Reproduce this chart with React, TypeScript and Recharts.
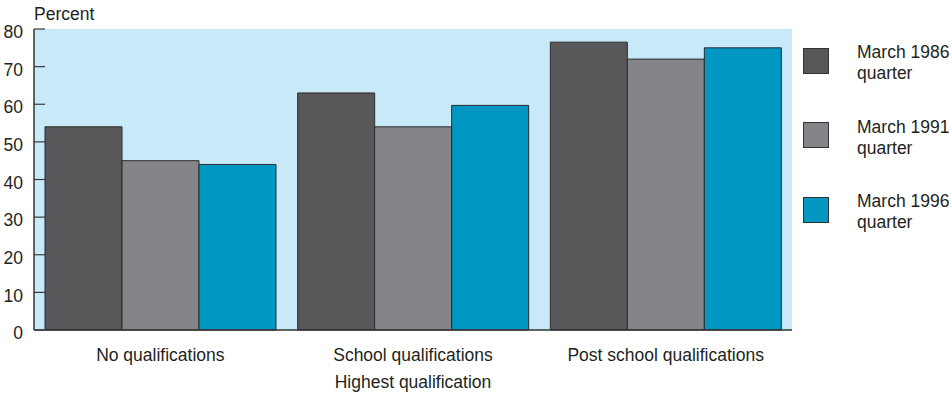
import { Bar, BarChart, CartesianGrid, XAxis, YAxis } from "recharts";

const CATEGORIES = ["No qualifications", "School qualifications", "Post school qualifications"];
const MARCH_1986 = [54, 63, 76.5];
const MARCH_1991 = [45, 54, 72];
const MARCH_1996 = [44, 59.7, 75];
const Y_TICKS = [0, 10, 20, 30, 40, 50, 60, 70, 80];

const SERIES = [
  { key: "m1986", name: "March 1986 quarter", color: "#58585a" },
  { key: "m1991", name: "March 1991 quarter", color: "#848588" },
  { key: "m1996", name: "March 1996 quarter", color: "#0098c2" },
];

const data = CATEGORIES.map((cat, i) => ({
  cat,
  m1986: MARCH_1986[i],
  m1991: MARCH_1991[i],
  m1996: MARCH_1996[i],
}));

const FONT = "'Liberation Sans', Arial, sans-serif";
const FS = 17.5;
const TEXT = "#231f20";

// y ticks point inward, labels sit left of the axis
function YTick(props: any) {
  const { x, y, payload } = props;
  return (
    <g>
      <line x1={x} x2={x + 11} y1={y} y2={y} stroke="#3a3a3c" strokeWidth={1.2} />
      <text x={x - 11} y={y + 3} dy="0.35em" textAnchor="end" fontSize={FS} fontFamily={FONT} fill={TEXT}>
        {payload.value}
      </text>
    </g>
  );
}

function LegendBox() {
  return (
    <div
      style={{
        position: "absolute",
        left: 803,
        top: 42.4,
        width: 150,
        fontFamily: FONT,
        fontSize: FS,
        color: TEXT,
      }}
    >
      {SERIES.map((s, i) => (
        <div key={s.key} style={{ position: "absolute", left: 0, top: i * 74.5, width: 150 }}>
          <div
            style={{
              position: "absolute",
              left: 0,
              top: 5.3,
              width: 24,
              height: 24,
              background: s.color,
              border: "1px solid #333",
            }}
          />
          <div style={{ position: "absolute", left: 54, top: 0, width: 95, lineHeight: "21px" }}>{s.name}</div>
        </div>
      ))}
    </div>
  );
}

export default function App() {
  return (
    <div style={{ position: "absolute", left: 0, top: 0, width: 952, height: 395, background: "#fff" }}>
      <BarChart
        width={952}
        height={395}
        data={data}
        margin={{ top: 29, right: 160, bottom: 0, left: 0 }}
        barCategoryGap={11}
        barGap={0}
      >
        <CartesianGrid horizontal={false} vertical={false} fill="#c8eaf8" />
        <XAxis
          dataKey="cat"
          height={65}
          tickLine={false}
          tickSize={0}
          tickMargin={19}
          axisLine={{ stroke: "#333", strokeWidth: 1.5 }}
          tick={{ fontSize: FS, fontFamily: FONT, fill: TEXT }}
          interval={0}
          label={{
            value: "Highest qualification",
            position: "insideBottom",
            offset: 7,
            fontSize: FS,
            fontFamily: FONT,
            fill: TEXT,
          }}
        />
        <XAxis xAxisId="top" orientation="top" height={0} tick={false} tickLine={false} axisLine={{ stroke: "#555", strokeWidth: 1.2 }} />
        <YAxis
          width={34}
          domain={[0, 80]}
          ticks={Y_TICKS}
          tickLine={false}
          tickSize={0}
          tickMargin={0}
          tick={<YTick />}
          axisLine={{ stroke: "#333", strokeWidth: 1.5 }}
          label={{
            position: "top",
            content: (p: any) => (
              <text x={p.viewBox.x + p.viewBox.width} y={p.viewBox.y - 9} fontSize={FS} fontFamily={FONT} fill={TEXT}>
                Percent
              </text>
            ),
          }}
        />
        <YAxis yAxisId="right" orientation="right" width={0} tick={false} tickLine={false} axisLine={{ stroke: "#333", strokeWidth: 1.2 }} />
        {SERIES.map((s) => (
          <Bar
            key={s.key}
            dataKey={s.key}
            name={s.name}
            fill={s.color}
            stroke="#2b2b2d"
            strokeWidth={1}
            isAnimationActive={false}
          />
        ))}
      </BarChart>
      <LegendBox />
    </div>
  );
}
